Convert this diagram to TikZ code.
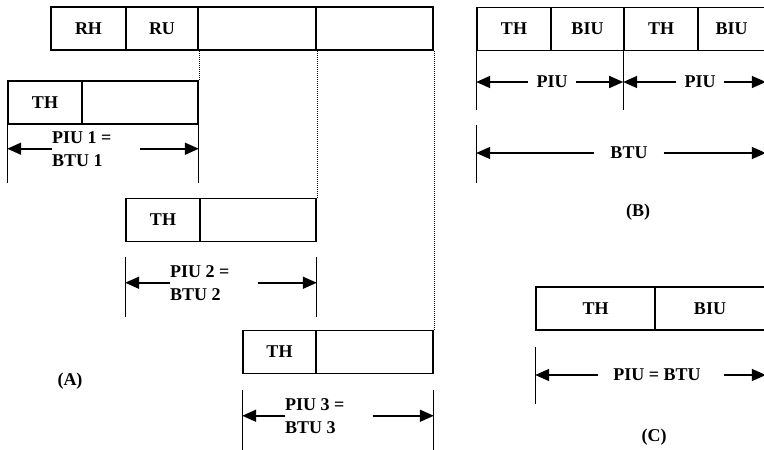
\documentclass[tikz,border=0pt]{standalone}
\usepackage{fontspec}
\setmainfont{Liberation Serif}
\usetikzlibrary{arrows.meta}

\begin{document}
\begin{tikzpicture}[x=1pt,y=-1pt,
    every node/.style={font=\fontsize{18}{23}\selectfont\bfseries},
    cell/.style={draw,line width=1.6pt,minimum height=43pt,inner sep=0pt},
    tick/.style={line width=1.3pt},
    dim/.style={line width=1.6pt,-{Triangle[length=14pt,width=12pt]}},
    guide/.style={line width=0.6pt,dash pattern=on 1pt off 1pt},
    lbl/.style={inner sep=0pt,align=left}]
    \useasboundingbox (0,0) rectangle (764,450);
    \clip (0,0) rectangle (764,450);
    % (A) RU split in three PIUs
    \node[cell,minimum width=75pt] (rh) at (88.5,28.5) {RH};
    \node[cell,minimum width=72pt] (ru) at (162,28.5) {RU};
    \node[cell,minimum width=118pt] (ra) at (257,28.5) {};
    \node[cell,minimum width=117pt] (rb) at (374.5,28.5) {};
    \node[cell,minimum width=74pt] (tha) at (45,102.5) {TH};
    \node[cell,minimum width=116pt] (thb) at (140,102.5) {};
    \node[cell,minimum width=74pt] (thc) at (163,220) {TH};
    \node[cell,minimum width=116pt] (thd) at (258,220) {};
    \node[cell,minimum width=73pt] (the) at (279.5,352) {TH};
    \node[cell,minimum width=117pt] (thf) at (374.5,352) {};
    \draw[guide] (ru.south east) -- (thb.north east);
    \draw[guide] (ra.south east) -- (thd.north east);
    \draw[guide] (rb.south east) -- (thf.north east);
    \draw[tick] (tha.south west) -- ++(0,58);
    \draw[tick] (thb.south east) -- ++(0,58);
    \node[lbl,anchor=north west] (piua) at (52,131) {PIU 1 =\\BTU 1};
    \draw[dim] (piua.west) -- (piua.west -| tha.west);
    \draw[dim] ([xshift=28pt]piua.east) -- (piua.east -| thb.east);
    \draw[tick] (thc.south west) ++(0,15) -- ++(0,60);
    \draw[tick] (thd.south east) ++(0,15) -- ++(0,60);
    \node[lbl,anchor=north west] (piub) at (170,265) {PIU 2 =\\BTU 2};
    \draw[dim] (piub.west) -- (piub.west -| thc.west);
    \draw[dim] ([xshift=28pt]piub.east) -- (piub.east -| thd.east);
    \draw[tick] (the.south west) ++(0,16) -- ++(0,60);
    \draw[tick] (thf.south east) ++(0,16) -- ++(0,60);
    \node[lbl,anchor=north west] (piuc) at (285,398) {PIU 3 =\\BTU 3};
    \draw[dim] (piuc.west) -- (piuc.west -| the.west);
    \draw[dim] ([xshift=28pt]piuc.east) -- (piuc.east -| thf.east);
    \node (capa) at (70,381) {(A)};
    % (B) two PIUs in one BTU
    \node[cell,minimum width=74pt] (ba) at (514,29) {TH};
    \node[cell,minimum width=73pt] (bb) at (587.5,29) {BIU};
    \node[cell,minimum width=74pt] (bc) at (661,29) {TH};
    \node[cell,minimum width=67pt] (bd) at (731.5,29) {BIU};
    \draw[tick] (ba.south west) -- ++(0,59);
    \draw[tick] (bc.south west) -- ++(0,59);
    \node[inner xsep=8pt] (piud) at (552,82) {PIU};
    \draw[dim] (piud.west) -- (piud.west -| ba.west);
    \draw[dim] (piud.east) -- (piud.east -| bc.west);
    \node[inner xsep=8pt] (piue) at (700,82) {PIU};
    \draw[dim] (piue.west) -- (piue.west -| bc.west);
    \draw[dim] (piue.east) -- (piue.east -| bd.east);
    \draw[tick] (ba.south west) ++(0,74) -- ++(0,58);
    \node[inner xsep=16pt] (btu) at (629,153) {BTU};
    \draw[dim] (btu.west) -- (btu.west -| ba.west);
    \draw[dim] (btu.east) -- (btu.east -| bd.east);
    \node (capb) at (638,212) {(B)};
    % (C) one PIU is the BTU
    \node[cell,minimum width=119pt] (ca) at (595.5,308.5) {TH};
    \node[cell,minimum width=110pt] (cb) at (710,308.5) {BIU};
    \draw[tick] (ca.south west) ++(0,16) -- ++(0,57);
    \node[inner xsep=15pt] (piuf) at (657,375) {PIU = BTU};
    \draw[dim] (piuf.west) -- (piuf.west -| ca.west);
    \draw[dim] ([xshift=8pt]piuf.east) -- (piuf.east -| cb.east);
    \node (capc) at (654,437) {(C)};
\end{tikzpicture}
\end{document}
